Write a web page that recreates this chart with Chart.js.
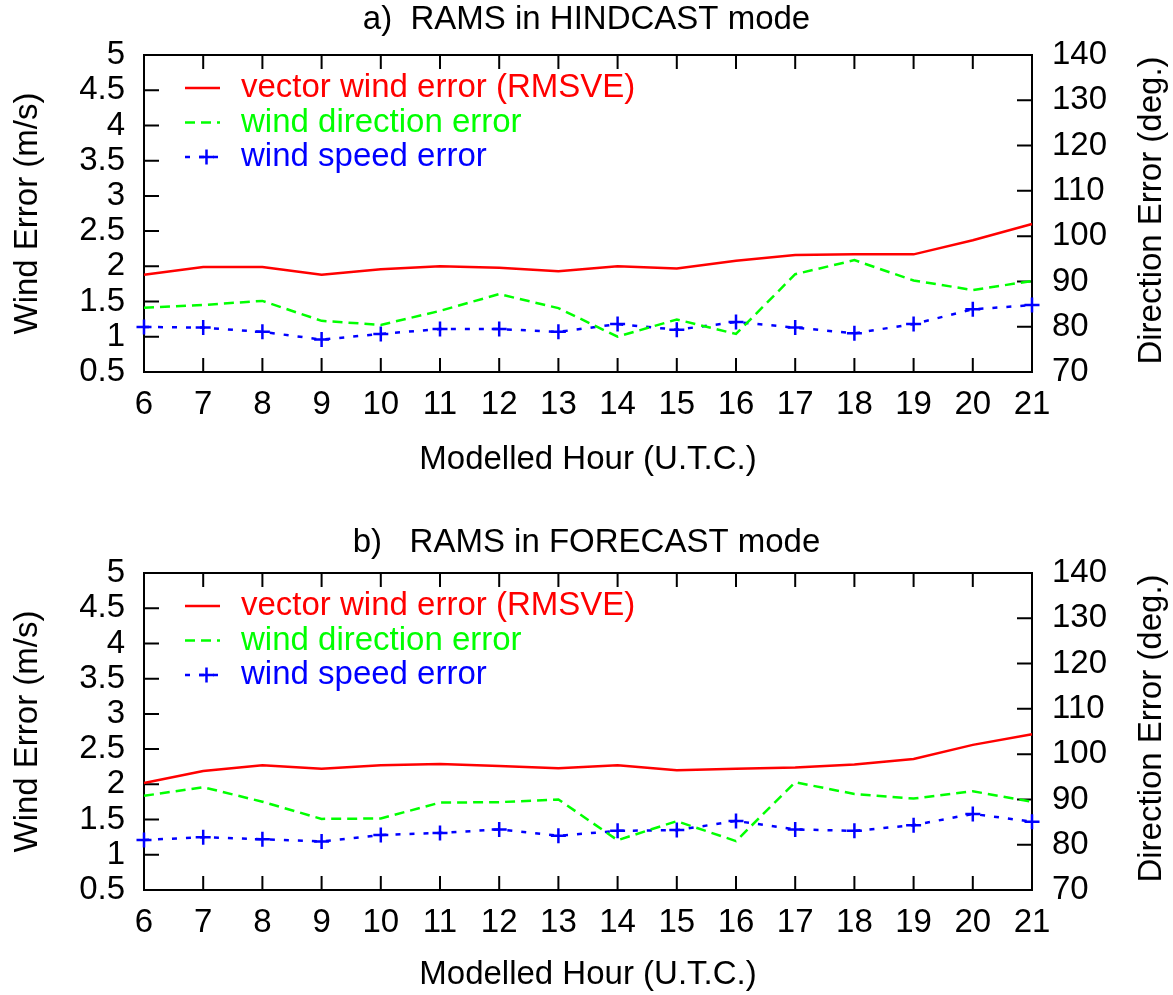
<!DOCTYPE html>
<html>
<head>
<meta charset="utf-8">
<title>RAMS wind errors</title>
<script src="https://cdn.jsdelivr.net/npm/chart.js@4.4.1/dist/chart.umd.min.js"></script>
<style>
  body { margin: 0; background: #fff; }
  #wrap { position: relative; width: 1173px; height: 995px; }
  canvas { position: absolute; left: 0; }
</style>
</head>
<body>
<div id="wrap">
  <canvas id="hindcast" width="1173" height="497" style="top:0px"></canvas>
  <canvas id="forecast" width="1173" height="477" style="top:518px"></canvas>
</div>
<script>
// modelled hours (U.T.C.)
var hours = [6, 7, 8, 9, 10, 11, 12, 13, 14, 15, 16, 17, 18, 19, 20, 21];

// a) hindcast mode
var hindVector    = [1.88, 1.99, 1.99, 1.88, 1.96, 2.00, 1.98, 1.93, 2.00, 1.97, 2.08, 2.16, 2.17, 2.17, 2.37, 2.60];
var hindDirection = [84.2, 84.8, 85.7, 81.3, 80.4, 83.5, 87.2, 84.1, 77.8, 81.6, 78.4, 91.6, 94.7, 90.2, 88.1, 90.1];
var hindSpeed     = [1.14, 1.13, 1.07, 0.96, 1.04, 1.11, 1.11, 1.07, 1.18, 1.10, 1.21, 1.13, 1.05, 1.18, 1.39, 1.45];

// b) forecast mode
var foreVector    = [2.02, 2.19, 2.27, 2.22, 2.27, 2.29, 2.26, 2.23, 2.27, 2.20, 2.22, 2.24, 2.28, 2.36, 2.56, 2.71];
var foreDirection = [90.8, 92.7, 89.5, 85.7, 85.8, 89.3, 89.4, 90.0, 81.0, 85.2, 80.8, 93.8, 91.2, 90.2, 91.8, 89.5];
var foreSpeed     = [1.21, 1.25, 1.22, 1.19, 1.28, 1.31, 1.36, 1.27, 1.34, 1.35, 1.48, 1.36, 1.34, 1.42, 1.58, 1.47];

// tick labels
var windTicks = [0.5, 1, 1.5, 2, 2.5, 3, 3.5, 4, 4.5, 5];
var dirTicks = [70, 80, 90, 100, 110, 120, 130, 140];

var FONT = "'Liberation Sans', Arial, Helvetica, sans-serif";
var FSIZE = 33;
Chart.defaults.font.family = FONT;
Chart.defaults.font.size = FSIZE;
Chart.defaults.color = "#000";

// gnuplot look: box border, inward ticks, right title reading upward, legend inside
var gnuplotFrame = {
    id: "gnuplotFrame",
    beforeDatasetsDraw: function (chart, args, opts) {
        var ctx = chart.ctx;
        var a = chart.chartArea;
        var x = chart.scales.x, y = chart.scales.y, y1 = chart.scales.y1;
        ctx.save();
        ctx.strokeStyle = "#000";
        ctx.lineWidth = 2;
        ctx.strokeRect(a.left, a.top, a.right - a.left, a.bottom - a.top);
        ctx.beginPath();
        x.ticks.forEach(function (t, i) {
            var px = x.getPixelForTick(i);
            ctx.moveTo(px, a.bottom); ctx.lineTo(px, a.bottom - 14);
            ctx.moveTo(px, a.top); ctx.lineTo(px, a.top + 14);
        });
        y.ticks.forEach(function (t, i) {
            var py = y.getPixelForTick(i);
            ctx.moveTo(a.left, py); ctx.lineTo(a.left + 15, py);
        });
        y1.ticks.forEach(function (t, i) {
            var py = y1.getPixelForTick(i);
            ctx.moveTo(a.right, py); ctx.lineTo(a.right - 15, py);
        });
        ctx.stroke();

        /* right axis title */
        ctx.fillStyle = "#000";
        ctx.font = FSIZE + "px " + FONT;
        ctx.textAlign = "center";
        ctx.textBaseline = "middle";
        ctx.translate(chart.width - 21, (a.top + a.bottom) / 2 - 3);
        ctx.rotate(-Math.PI / 2);
        ctx.fillText(opts.rightTitle, 0, 0);
        ctx.restore();
    },
    afterDatasetsDraw: function (chart) {
        var ctx = chart.ctx;
        var a = chart.chartArea;
        ctx.save();
        ctx.font = FSIZE + "px " + FONT;
        ctx.textAlign = "left";
        ctx.textBaseline = "middle";
        chart.data.datasets.forEach(function (ds, i) {
            var ly = a.top + 33 + i * 34.5;
            var x0 = a.left + 41, x1 = a.left + 76;
            ctx.strokeStyle = ds.borderColor;
            ctx.lineWidth = ds.borderWidth;
            ctx.setLineDash(ds.borderDash || []);
            ctx.beginPath();
            ctx.moveTo(x0, ly); ctx.lineTo(x1, ly);
            ctx.stroke();
            ctx.setLineDash([]);
            if (ds.pointStyle === "cross") {
                var cx = (x0 + x1) / 2 + 4, r = ds.pointRadius;
                ctx.beginPath();
                ctx.moveTo(cx - r, ly); ctx.lineTo(cx + r, ly);
                ctx.moveTo(cx, ly - r); ctx.lineTo(cx, ly + r);
                ctx.stroke();
            }
            ctx.fillStyle = ds.borderColor;
            ctx.fillText(ds.label, a.left + 97, ly);
        });
        ctx.restore();
    }
};

function makeChart(id, title, titlePad, xHeight, bottomPad, vector, direction, speed) {
    var ctx = document.getElementById(id);
    return new Chart(ctx, {
        type: "line",
        data: {
            labels: hours,
            datasets: [{
                label: "vector wind error (RMSVE)",
                data: vector,
                yAxisID: "y",
                borderColor: "#ff0000",
                borderWidth: 2.5,
                pointRadius: 0,
                tension: 0,
                clip: false
            }, {
                label: "wind direction error",
                data: direction,
                yAxisID: "y1",
                borderColor: "#00ff00",
                borderWidth: 2.5,
                borderDash: [10, 6],
                pointRadius: 0,
                tension: 0,
                clip: false
            }, {
                label: "wind speed error",
                data: speed,
                yAxisID: "y",
                borderColor: "#0000ff",
                borderWidth: 2.5,
                borderDash: [5, 9],
                pointStyle: "cross",
                pointRadius: 7.5,
                pointBorderWidth: 2.5,
                pointBorderColor: "#0000ff",
                tension: 0,
                clip: false
            }]
        },
        options: {
            responsive: false,
            animation: false,
            devicePixelRatio: 1,
            layout: { padding: { left: 0, right: 0, top: 0, bottom: bottomPad } },
            plugins: {
                legend: { display: false },
                tooltip: { enabled: false },
                title: {
                    display: true,
                    text: title,
                    color: "#000",
                    font: { size: FSIZE, weight: "normal" },
                    padding: titlePad
                },
                gnuplotFrame: { rightTitle: "Direction Error (deg.)" }
            },
            scales: {
                x: {
                    type: "category",
                    offset: false,
                    grid: { display: false, drawTicks: false },
                    border: { display: false },
                    ticks: { padding: 13, maxRotation: 0, autoSkip: false },
                    title: { display: true, text: "Modelled Hour (U.T.C.)", padding: { top: 0, bottom: 0 } },
                    afterFit: function (s) { s.height = xHeight; }
                },
                y: {
                    position: "left",
                    min: 0.5,
                    max: 5,
                    afterBuildTicks: function (s) {
                        s.ticks = windTicks.map(function (v) { return { value: v }; });
                    },
                    ticks: { padding: 19, autoSkip: false, callback: function (v) { return String(v); } },
                    grid: { display: false, drawTicks: false },
                    border: { display: false },
                    title: { display: true, text: "Wind Error (m/s)", padding: { top: 8.2, bottom: 0 } },
                    afterFit: function (s) { s.width = 144; }
                },
                y1: {
                    position: "right",
                    min: 70,
                    max: 140,
                    afterBuildTicks: function (s) {
                        s.ticks = dirTicks.map(function (v) { return { value: v }; });
                    },
                    ticks: { padding: 20, autoSkip: false, callback: function (v) { return String(v); } },
                    grid: { display: false, drawTicks: false },
                    border: { display: false },
                    afterFit: function (s) { s.width = 141; }
                }
            }
        },
        plugins: [gnuplotFrame]
    });
}

makeChart("hindcast", "a)  RAMS in HINDCAST mode", { top: 0.2, bottom: 15.2 }, 108, 17,
    hindVector, hindDirection, hindSpeed);
makeChart("forecast", "b)   RAMS in FORECAST mode", { top: 5.2, bottom: 10.2 }, 105, 0,
    foreVector, foreDirection, foreSpeed);
</script>
</body>
</html>
